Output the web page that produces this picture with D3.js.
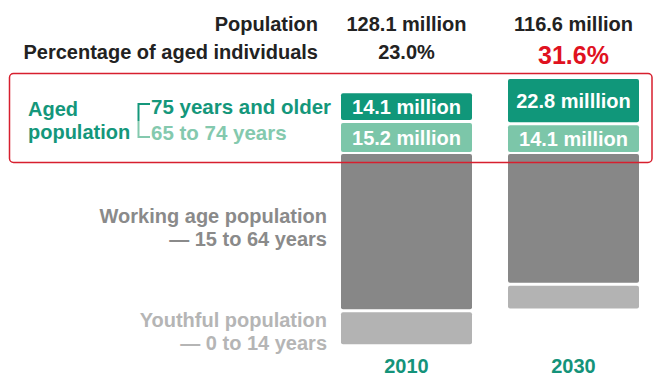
<!DOCTYPE html>
<html>
<head>
<meta charset="utf-8">
<script src="https://cdn.jsdelivr.net/npm/d3@7"></script>
<style>
  html, body { margin: 0; padding: 0; background: #fff; }
  svg text { font-family: "Liberation Sans", Arial, sans-serif; font-weight: bold; }
</style>
</head>
<body>
<svg id="chart" width="655" height="376"></svg>
<script>
// chart values, in millions
var years = ["2010", "2030"];
var totalLabels = ["128.1 million", "116.6 million"];
var agedShare = ["23.0%", "31.6%"];
var aged75 = [14.1, 22.8];
var aged65 = [15.2, 14.1];
var working = [81.7, 67.7];
var youth = [16.8, 12.0];
var aged75Labels = ["14.1 million", "22.8 milllion"];
var aged65Labels = ["15.2 million", "14.1 million"];

var svg = d3.select("#chart");

// bars hang from one line: aged groups go up, the rest go down
var x = d3.scaleBand().domain(years).range([341, 639]).paddingInner(0.2156);
var h = d3.scaleLinear().domain([0, 100]).range([0, 190]);
var anchor = 153, gap = 3;

var colors = {
    aged75: "#10977a",
    aged65: "#7cc6a9",
    working: "#878787",
    youth: "#b3b3b3"
};

var segs = [];
years.forEach(function(y, i) {
    var b65 = anchor - 1, t65 = b65 - h(aged65[i]);
    var b75 = t65 - gap, t75 = b75 - h(aged75[i]);
    var tw = anchor + 1, bw = tw + h(working[i]);
    var ty = bw + gap, by = ty + h(youth[i]);
    segs.push({year: y, key: "aged75", y0: t75, y1: b75, label: aged75Labels[i]});
    segs.push({year: y, key: "aged65", y0: t65, y1: b65, label: aged65Labels[i]});
    segs.push({year: y, key: "working", y0: tw, y1: bw});
    segs.push({year: y, key: "youth", y0: ty, y1: by});
});

svg.append("g").selectAll("rect")
    .data(segs)
    .enter().append("rect")
    .attr("x", function(d) { return x(d.year); })
    .attr("y", function(d) { return d.y0; })
    .attr("width", x.bandwidth())
    .attr("height", function(d) { return d.y1 - d.y0; })
    .attr("rx", 2)
    .attr("fill", function(d) { return colors[d.key]; });

svg.append("g").selectAll("text")
    .data(segs.filter(function(d) { return d.label; }))
    .enter().append("text")
    .attr("x", function(d) { return x(d.year) + x.bandwidth() / 2; })
    .attr("y", function(d) { return (d.y0 + d.y1) / 2 + 7; })
    .attr("text-anchor", "middle")
    .attr("font-size", 20)
    .attr("fill", "#fff")
    .text(function(d) { return d.label; });

// header rows
var head = svg.append("g");
head.append("text").attr("x", 318).attr("y", 31).attr("text-anchor", "end")
    .attr("font-size", 20).attr("fill", "#222").text("Population");
head.append("text").attr("x", 318).attr("y", 59).attr("text-anchor", "end")
    .attr("font-size", 20).attr("fill", "#222").text("Percentage of aged individuals");

head.selectAll(".tot").data(years).enter().append("text")
    .attr("x", function(d) { return x(d) + x.bandwidth() / 2; })
    .attr("y", 31)
    .attr("text-anchor", "middle")
    .attr("font-size", 20).attr("fill", "#222")
    .text(function(d, i) { return totalLabels[i]; });

head.selectAll(".pct").data(years).enter().append("text")
    .attr("x", function(d) { return x(d) + x.bandwidth() / 2; })
    .attr("y", function(d, i) { return i == 1 ? 64 : 59; })
    .attr("text-anchor", "middle")
    .attr("font-size", function(d, i) { return i == 1 ? 25 : 20; })
    .attr("fill", function(d, i) { return i == 1 ? "#e0121f" : "#222"; })
    .text(function(d, i) { return agedShare[i]; });

// year labels
svg.append("g").selectAll("text").data(years).enter().append("text")
    .attr("x", function(d) { return x(d) + x.bandwidth() / 2; })
    .attr("y", 373)
    .attr("text-anchor", "middle")
    .attr("font-size", 20).attr("fill", "#14937a")
    .text(function(d) { return d; });

// legend for the aged groups
var leg = svg.append("g");
leg.append("text").attr("x", 28).attr("y", 116).attr("font-size", 20)
    .attr("fill", "#14977b").text("Aged");
leg.append("text").attr("x", 28).attr("y", 139).attr("font-size", 20)
    .attr("fill", "#14977b").text("population");
leg.append("path").attr("d", "M150,104H138.5V121")
    .attr("fill", "none").attr("stroke", "#14977b").attr("stroke-width", 2);
leg.append("path").attr("d", "M138.5,121V137H150")
    .attr("fill", "none").attr("stroke", "#84c9ae").attr("stroke-width", 2);
leg.append("text").attr("x", 151).attr("y", 114).attr("font-size", 20.5)
    .attr("fill", "#14977b").text("75 years and older");
leg.append("text").attr("x", 151).attr("y", 140).attr("font-size", 20.5)
    .attr("fill", "#84c9ae").text("65 to 74 years");

// labels for the lower groups
var low = svg.append("g").attr("text-anchor", "end").attr("font-size", 20);
low.append("text").attr("x", 327).attr("y", 223).attr("fill", "#8a8a8a").text("Working age population");
low.append("text").attr("x", 327).attr("y", 246).attr("fill", "#8a8a8a").text("\u2014 15 to 64 years");
low.append("text").attr("x", 327).attr("y", 327).attr("fill", "#b5b5b5").text("Youthful population");
low.append("text").attr("x", 327).attr("y", 350).attr("fill", "#b5b5b5").text("\u2014 0 to 14 years");

// red frame drawn over the bars
svg.append("rect")
    .attr("x", 9.5).attr("y", 73.5).attr("width", 642.5).attr("height", 89)
    .attr("rx", 4)
    .attr("fill", "none").attr("stroke", "#d71f2e").attr("stroke-width", 1.5);
</script>
</body>
</html>
